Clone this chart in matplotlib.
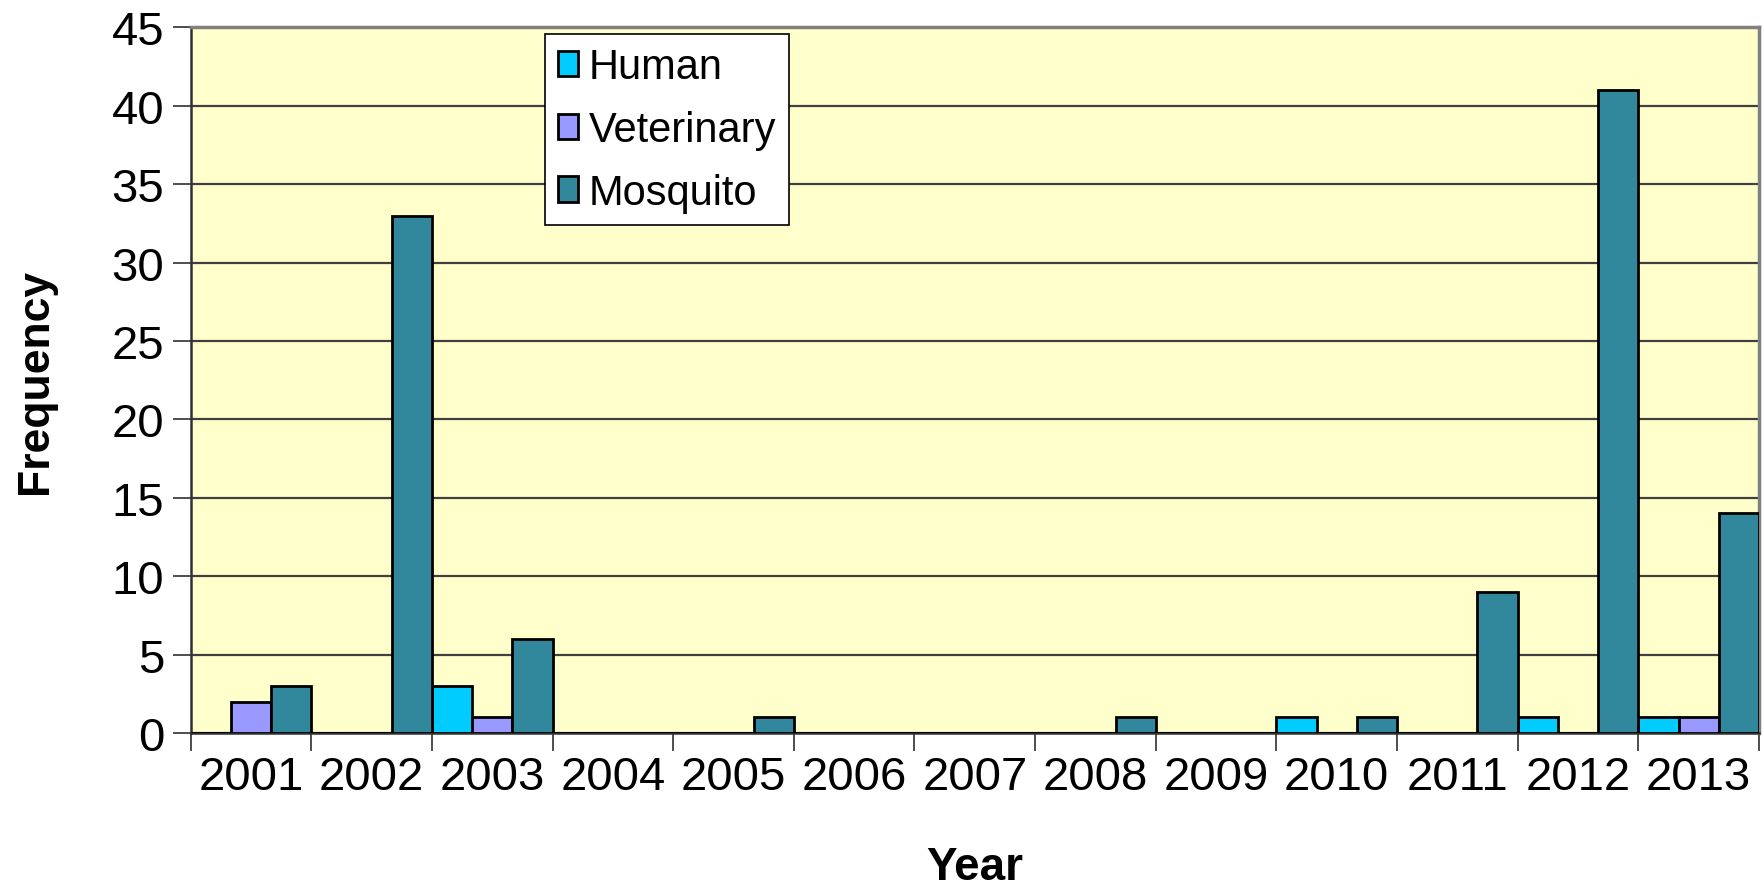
import numpy as np
import matplotlib.pyplot as plt
from matplotlib.patches import Patch

years = ['2001', '2002', '2003', '2004', '2005', '2006', '2007',
         '2008', '2009', '2010', '2011', '2012', '2013']
human = [0, 0, 3, 0, 0, 0, 0, 0, 0, 1, 0, 1, 1]
veterinary = [2, 0, 1, 0, 0, 0, 0, 0, 0, 0, 0, 0, 1]
mosquito = [3, 33, 6, 0, 1, 0, 0, 1, 0, 1, 9, 41, 14]

series_names = ['Human', 'Veterinary', 'Mosquito']
colors = ['#00CCFF', '#9999FF', '#31879C']

plt.rcParams['font.family'] = ['Liberation Sans', 'DejaVu Sans']

fig = plt.figure(figsize=(17.65, 8.87), dpi=100)
ax = fig.add_axes([0.108, 0.1725, 0.8886, 0.7955])
ax.set_facecolor('#FFFFCC')

x = np.arange(len(years))
w = 1.0 / 3
for k, (vals, col) in enumerate(zip((human, veterinary, mosquito), colors)):
    ax.bar(x + (k - 1) * w, vals, width=w, color=col, edgecolor='black',
           linewidth=2, zorder=3)

ax.set_xlim(-0.5, len(years) - 0.5)
ax.set_ylim(0, 45)
ax.set_yticks(np.arange(0, 46, 5))
ax.yaxis.grid(True, color='#404040', linewidth=1.6, zorder=1)
ax.set_axisbelow(True)

# category labels centred, tick marks between categories
ax.set_xticks(x)
ax.set_xticklabels(years)
ax.set_xticks(np.arange(-0.5, len(years)), minor=True)
ax.tick_params(axis='x', which='major', length=0, pad=16, labelsize=34)
ax.tick_params(axis='x', which='minor', length=13, width=1.3, color='#404040')
ax.tick_params(axis='y', length=13, width=1.3, color='#404040', pad=6,
               labelsize=34)

for s in ('left', 'bottom'):
    ax.spines[s].set_color('#303030')
    ax.spines[s].set_linewidth(1.8)
for s in ('top', 'right'):
    ax.spines[s].set_color('#808080')
    ax.spines[s].set_linewidth(2.5)

ax.set_ylabel('Frequency', fontsize=32, fontweight='bold', labelpad=40)
ax.set_xlabel('Year', fontsize=33, fontweight='bold', labelpad=33)

handles = [Patch(facecolor=c, edgecolor='black', linewidth=2) for c in colors]
leg = ax.legend(handles, series_names, loc='upper left',
                bbox_to_anchor=(0.226, 0.99), fontsize=30, frameon=True,
                fancybox=False, framealpha=1, edgecolor='black',
                handlelength=0.5, handleheight=0.55, handletextpad=0.25,
                labelspacing=0.55, borderpad=0.3, borderaxespad=0)
leg.get_frame().set_linewidth(1.2)

fig.savefig('out.png', dpi=100, facecolor='white')
